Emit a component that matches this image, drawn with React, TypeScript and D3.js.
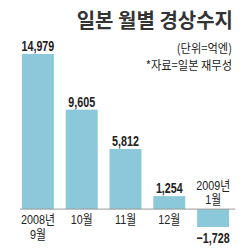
import React from 'react';
import * as d3 from 'd3';

const months = ['2008년\n9월', '10월', '11월', '12월', '2009년\n1월'];
const values = [14979, 9605, 5812, 1254, -1728];
const title = '일본 월별 경상수지';
const unitNote = '(단위=억엔)';
const sourceNote = '*자료=일본 재무성';

const W = 250;
const H = 250;
const barColor = '#8bc9da';
const numFont = '"Liberation Sans", "Noto Sans CJK KR", sans-serif';
const krFont = '"Noto Sans CJK KR", sans-serif';

// narrow text: the original uses a condensed face, so squeeze horizontally
const Cond: React.FC<{ x: number; y: number; sx?: number; size: number; weight?: number; family?: string; anchor?: string; children: React.ReactNode }> = ({
  x, y, sx = 0.75, size, weight = 400, family = numFont, anchor = 'middle', children,
}) => (
  <g transform={`translate(${x},${y}) scale(${sx},1)`}>
    <text textAnchor={anchor as any} fontFamily={family} fontSize={size} fontWeight={weight} fill="#222">
      {children}
    </text>
  </g>
);

const App: React.FC = () => {
  const x = d3.scaleBand<string>().domain(months).range([16, 235]).paddingInner(0.27).paddingOuter(0.135);
  const y = d3.scaleLinear().domain([-1728, 14979]).range([227, 54]);
  const base = y(0);

  return (
    <svg width={W} height={H} style={{ position: 'absolute', left: 0, top: 0, background: '#fff' }}>
      <text x={233} y={28} textAnchor="end" fontFamily={krFont} fontWeight={700} fontSize={20} fill="#333">
        {title}
      </text>
      <Cond x={232} y={53} sx={0.9} size={12.5} family={krFont} anchor="end">{unitNote}</Cond>
      <Cond x={232} y={70} sx={0.9} size={12.5} family={krFont} anchor="end">{sourceNote}</Cond>

      {values.map((v, i) => {
        const m = months[i];
        const bx = x(m)!;
        const top = v >= 0 ? y(v) : base;
        const h = Math.abs(y(v) - base);
        return <rect key={m} x={bx} y={top} width={x.bandwidth()} height={h} fill={barColor} />;
      })}

      <line x1={20} x2={235} y1={base} y2={base} stroke="#999" strokeWidth={1} />

      {values.map((v, i) => {
        const m = months[i];
        const cx = x(m)! + x.bandwidth() / 2;
        const ly = v >= 0 ? y(v) - 3 : y(v) + 16;
        const label = (v < 0 ? '\u2212' : '') + d3.format(',')(Math.abs(v));
        return (
          <Cond key={'v' + m} x={cx} y={ly} sx={0.74} size={14.5} weight={700}>
            {label}
          </Cond>
        );
      })}

      {values.map((v, i) => {
        const m = months[i];
        const cx = x(m)! + x.bandwidth() / 2;
        const lines = m.split('\n');
        return lines.map((t, j) => {
          const ly = v >= 0 ? base + 15 + j * 15 : base - 5 + (j - (lines.length - 1)) * 14;
          return (
            <Cond key={'c' + m + j} x={cx} y={ly} sx={0.83} size={13}>
              {t}
            </Cond>
          );
        });
      })}
    </svg>
  );
};

export default App;
